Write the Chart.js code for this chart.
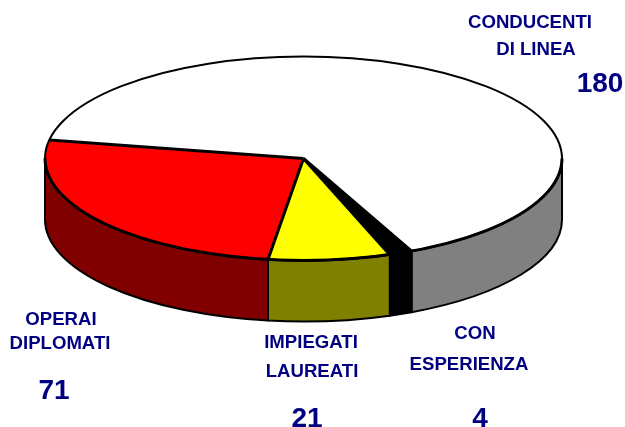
<!DOCTYPE html>
<html><head>
<meta charset="UTF-8">
<title>Pie</title>
<script src="https://cdn.jsdelivr.net/npm/chart.js"></script>
<style>html,body{margin:0;padding:0;background:#fff}canvas{display:block}</style>
</head><body>
<canvas id="c" width="625" height="427"></canvas>
<script>
const categories = ['CONDUCENTI DI LINEA', 'CON ESPERIENZA', 'IMPIEGATI LAUREATI', 'OPERAI DIPLOMATI'];
const values = [180, 4, 21, 71];
const topColors = ['#ffffff', '#000000', '#ffff00', '#ff0000'];
const sideColors = ['#808080', '#000000', '#808000', '#800000'];

// pie is squashed into an ellipse, then given a wall below it
const CX = 303.5, CY = 158.5, RX = 258.5, RY = 102, DEPTH = 61;

// [text, x, y, size]
const labels = [
  ['CONDUCENTI', 530, 23, 18.6], ['DI LINEA', 536, 50, 18.6], ['180', 600, 84, 28],
  ['OPERAI', 61, 320, 18.6], ['DIPLOMATI', 60, 344, 18.6], ['71', 54, 391, 28],
  ['IMPIEGATI', 311, 343, 18.6], ['LAUREATI', 312, 372, 18.6], ['21', 307, 419, 28],
  ['CON', 475, 334, 18.6], ['ESPERIENZA', 469, 365, 18.6], ['4', 480, 419, 28],
];

const pie3d = {
  id: 'pie3d',
  beforeDatasetsDraw(chart) {
    const { ctx } = chart;
    ctx.save();
    ctx.lineWidth = 2;
    ctx.strokeStyle = '#000';
    ctx.lineJoin = 'round';
    chart.getDatasetMeta(0).data.forEach((arc, i) => {
      // only the part of the rim facing us (screen angle 0..PI) has a wall
      for (const off of [0, 2 * Math.PI]) {
        const a0 = Math.max(arc.startAngle - off, 0);
        const a1 = Math.min(arc.endAngle - off, Math.PI);
        if (a1 <= a0) continue;
        ctx.beginPath();
        ctx.ellipse(CX, CY, RX, RY, 0, a0, a1);
        ctx.ellipse(CX, CY + DEPTH, RX, RY, 0, a1, a0, true);
        ctx.closePath();
        ctx.fillStyle = sideColors[i];
        ctx.fill();
        ctx.stroke();
      }
    });
    ctx.restore();
  },
  beforeDatasetDraw(chart) {
    const { ctx } = chart;
    const arc = chart.getDatasetMeta(0).data[0];
    const r = arc.outerRadius;
    ctx.save();
    ctx.translate(CX, CY);
    ctx.scale(RX / r, RY / r);
    ctx.translate(-arc.x, -arc.y);
  },
  afterDatasetDraw(chart) {
    const { ctx } = chart;
    ctx.restore();
    // outlines after the transform so the line keeps an even width
    ctx.save();
    ctx.strokeStyle = '#000';
    ctx.lineJoin = 'round';
    ctx.lineWidth = 2;
    ctx.beginPath();
    ctx.ellipse(CX, CY, RX, RY, 0, 0, 2 * Math.PI);
    ctx.stroke();
    ctx.lineWidth = 3;
    ctx.beginPath();
    ctx.ellipse(CX, CY, RX, RY, 0, 0, Math.PI);
    ctx.stroke();
    chart.getDatasetMeta(0).data.forEach((arc) => {
      ctx.beginPath();
      ctx.moveTo(CX, CY);
      ctx.lineTo(CX + RX * Math.cos(arc.startAngle), CY + RY * Math.sin(arc.startAngle));
      ctx.stroke();
    });
    ctx.restore();
  },
  afterDraw(chart) {
    const { ctx } = chart;
    ctx.save();
    ctx.fillStyle = '#000080';
    ctx.textAlign = 'center';
    ctx.textBaseline = 'middle';
    labels.forEach(([t, x, y, s]) => {
      ctx.font = `bold ${s}px "Liberation Sans", Arial, sans-serif`;
      ctx.fillText(t, x, y);
    });
    ctx.restore();
  },
};

new Chart(document.getElementById('c'), {
  type: 'pie',
  data: {
    labels: categories,
    datasets: [{ data: values, backgroundColor: topColors, borderWidth: 0 }],
  },
  options: {
    responsive: false,
    animation: false,
    rotation: 280.5,
    plugins: { legend: { display: false }, tooltip: { enabled: false } },
  },
  plugins: [pie3d],
});
</script>
</body></html>
